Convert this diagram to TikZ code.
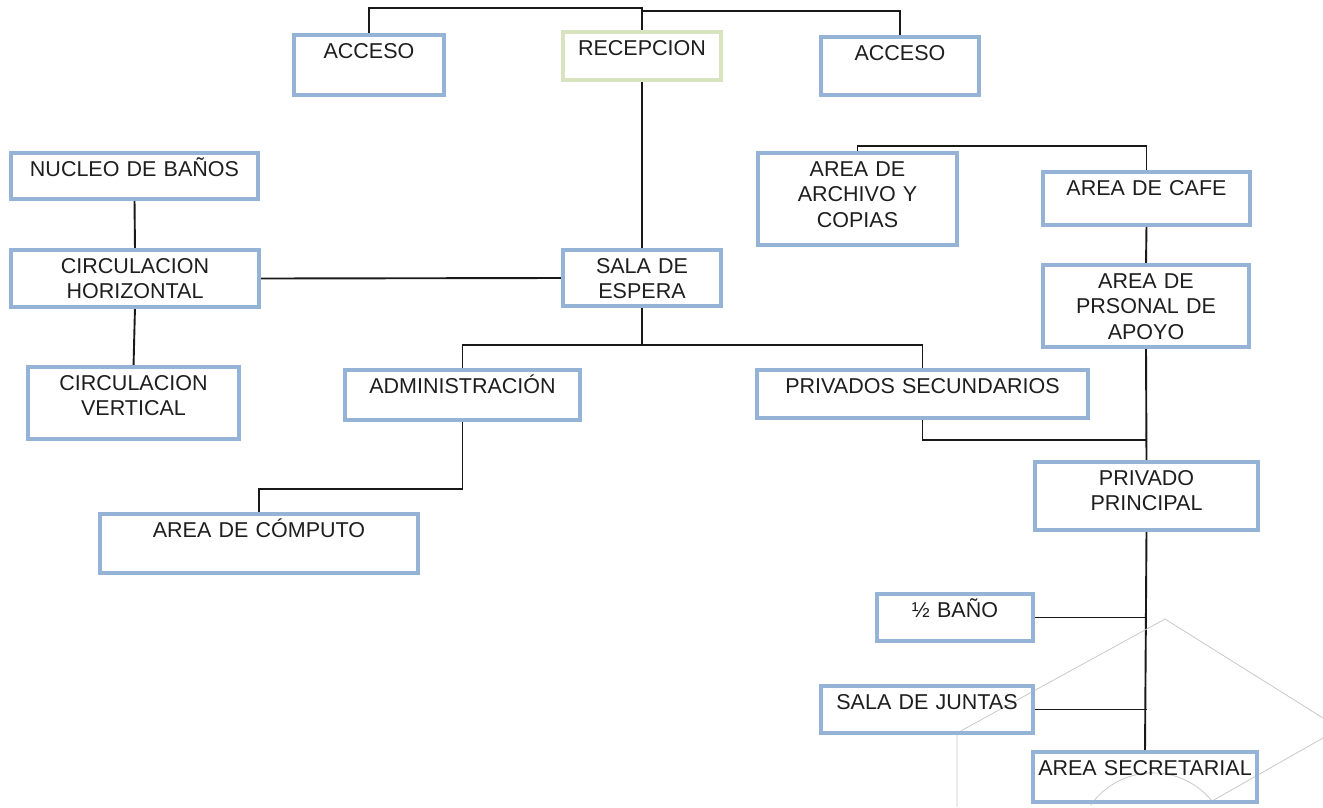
\documentclass[tikz,border=0pt]{standalone}
\usepackage{fontspec}
\setmainfont{Liberation Sans}
\usepackage{tikz}
\usetikzlibrary{backgrounds}
\definecolor{boxblue}{HTML}{95B3D7}
\definecolor{boxgreen}{HTML}{D7E4BD}
\definecolor{straygray}{HTML}{C8C8C8}
\definecolor{textgray}{HTML}{1E1E1E}

\begin{document}
\begin{tikzpicture}[x=1pt,y=-1pt]
  \tikzset{area box/.style={draw=#1,line width=3.8pt,outer sep=0pt,inner xsep=0pt,inner ysep=8pt,anchor=north,align=center,text height=15.4pt,text=textgray,font=\fontsize{21.5}{25.5}\selectfont},
    area box/.default=boxblue,
    link/.style={line width=1.9pt,black!90},
    stray/.style={draw=straygray,line width=0.8pt}}%
  \useasboundingbox (0,0) rectangle (1323,807);

  % entrance row
  \node [area box, text width=150pt, text depth=28.6pt] (acceso1) at (369,35) {ACCESO};
  \node [area box=boxgreen, text width=158pt, text depth=16.6pt] (recepcion) at (642,32) {RECEPCION};
  \node [area box, text width=158pt, text depth=26.6pt] (acceso2) at (900,37) {ACCESO};

  % left column
  \node [area box, text width=247pt, text depth=14.6pt] (nucleo) at (134.5,153) {NUCLEO DE BAÑOS};
  \node [area box, text width=248pt, text depth=25.6pt] (circh) at (135,250) {CIRCULACION\\HORIZONTAL};
  \node [area box, text width=211pt, text depth=40.6pt] (circv) at (133.5,367) {CIRCULACION\\VERTICAL};

  % centre
  \node [area box, text width=158pt, text depth=24.6pt] (sala) at (642,250) {SALA DE\\ESPERA};
  \node [area box, text width=235pt, text depth=18.6pt] (admin) at (462.5,370) {ADMINISTRACIÓN};
  \node [area box, text width=331pt, text depth=16.6pt] (privsec) at (922.5,370) {PRIVADOS SECUNDARIOS};
  \node [area box, text width=318pt, text depth=27.6pt] (computo) at (259,514) {AREA DE CÓMPUTO};

  % right column
  \node [area box, text width=199pt, text depth=60.6pt] (archivo) at (857.5,153) {AREA DE\\ARCHIVO Y\\COPIAS};
  \node [area box, text width=207pt, text depth=21.6pt] (cafe) at (1146.5,172) {AREA DE CAFE};
  \node [area box, text width=206pt, text depth=50.6pt] (apoyo) at (1146,265) {AREA DE\\PRSONAL DE\\APOYO};
  \node [area box, text width=223pt, text depth=36.6pt] (privp) at (1146.5,462) {PRIVADO\\PRINCIPAL};
  \node [area box, text width=156pt, text depth=15.6pt] (banio) at (955,594) {½ BAÑO};
  \node [area box, text width=212pt, text depth=15.6pt] (juntas) at (927,686) {SALA DE JUNTAS};
  \node [area box, text width=224pt, text depth=18.6pt] (secre) at (1145,752) {AREA SECRETARIAL};

  \coordinate (principal join) at (1146.5,440);

  \begin{scope}[on background layer]
    \draw [link] (acceso1.north) -- ++(0,-27) -| (recepcion.north);
    \draw [link] (recepcion.north) ++(0,-21) -| (acceso2.north);
    \draw [link] (recepcion.south) -- (sala.north);
    \draw [link] (nucleo.south) -- (circh.north);
    \draw [link] (circh.south) -- (circv.north);
    \draw [link] (circh.east) -- (sala.west);
    \draw [link] (sala.south) -- ++(0,39) coordinate (espera split);
    \draw [link] (espera split) -| (admin.north);
    \draw [link] (espera split) -| (privsec.north);
    \draw [link] (admin.south) -- ++(0,69) -| (computo.north);
    \draw [link] (archivo.north) -- ++(0,-7) -| (cafe.north);
    \draw [link] (cafe.south) -- (apoyo.north);
    \draw [link] (apoyo.south) -- (privp.north);
    \draw [link] (privsec.south) |- (principal join);
    \draw [link] (privp.south) -- (secre.north);
    \draw [link] (banio.east) -- (banio.east -| privp.south);
    \draw [link] (juntas.east) -- (juntas.east -| privp.south);
    % faint shape behind the lower right
    \draw [stray] (957,807) -- (957,733) -- (1165,619) -- (1323,718);
    \draw [stray] (1323,738) -- (1212,801) arc[start angle=-39,end angle=-145,radius=76];
  \end{scope}
\end{tikzpicture}
\end{document}
